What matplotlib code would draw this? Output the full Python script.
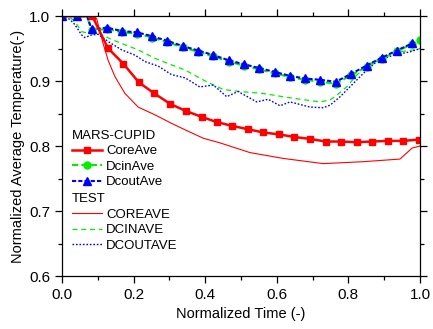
import matplotlib
matplotlib.use('Agg')
import matplotlib.pyplot as plt
from matplotlib.ticker import MultipleLocator

plt.rcParams['font.family'] = ['Liberation Sans', 'DejaVu Sans']

# MARS-CUPID (model) results
t_core = [0.0, 0.042, 0.085, 0.128, 0.171, 0.215, 0.258, 0.302, 0.346, 0.390, 0.432,
          0.476, 0.519, 0.562, 0.606, 0.649, 0.693, 0.737, 0.779, 0.823, 0.867, 0.910,
          0.953, 0.997]
core_ave = [1.0, 1.0, 1.0, 0.951, 0.927, 0.898, 0.881, 0.865, 0.854, 0.845, 0.837,
            0.831, 0.826, 0.821, 0.818, 0.814, 0.811, 0.807, 0.807, 0.806, 0.807, 0.808,
            0.808, 0.810]

t_dc = [0.0, 0.042, 0.07, 0.083, 0.127, 0.168, 0.210, 0.252, 0.294, 0.337, 0.381, 0.423,
        0.466, 0.508, 0.551, 0.595, 0.637, 0.679, 0.721, 0.765, 0.807, 0.851, 0.893,
        0.935, 0.978, 1.0]
dcin_ave = [1.0, 1.0, 1.0, 0.978, 0.980, 0.975, 0.973, 0.967, 0.960, 0.952, 0.945, 0.938,
            0.930, 0.924, 0.918, 0.912, 0.906, 0.902, 0.899, 0.896, 0.909, 0.922, 0.934,
            0.946, 0.957, 0.963]
dcout_ave = [1.0, 1.0, 1.0, 0.980, 0.982, 0.977, 0.975, 0.969, 0.962, 0.954, 0.947, 0.940,
             0.932, 0.926, 0.920, 0.914, 0.908, 0.904, 0.902, 0.899, 0.911, 0.924, 0.936,
             0.947, 0.958]

# TEST results
t_core_test = [0.0, 0.0875, 0.097, 0.115, 0.129, 0.148, 0.176, 0.213, 0.260, 0.306, 0.344,
               0.395, 0.441, 0.525, 0.618, 0.730, 0.842, 0.944, 0.978, 1.0]
core_test = [1.0, 1.0, 0.996, 0.958, 0.932, 0.907, 0.881, 0.860, 0.848, 0.835, 0.825,
             0.812, 0.805, 0.790, 0.781, 0.773, 0.776, 0.780, 0.797, 0.800]

t_dcin_test = [0.0, 0.022, 0.036, 0.055, 0.073, 0.101, 0.139, 0.176, 0.213, 0.260, 0.306,
               0.344, 0.404, 0.451, 0.497, 0.562, 0.628, 0.693, 0.721, 0.749, 0.767, 0.795,
               0.823, 0.860, 0.897, 0.944, 0.981, 1.0]
dcin_test = [1.0, 0.998, 0.992, 0.976, 0.974, 0.974, 0.964, 0.956, 0.948, 0.935, 0.925,
             0.917, 0.899, 0.887, 0.884, 0.881, 0.875, 0.870, 0.868, 0.871, 0.878, 0.891,
             0.909, 0.927, 0.937, 0.945, 0.948, 0.950]

t_dcout_test = [0.0, 0.022, 0.036, 0.055, 0.064, 0.083, 0.101, 0.129, 0.167, 0.204, 0.232,
                0.269, 0.306, 0.344, 0.385, 0.423, 0.460, 0.492, 0.544, 0.576, 0.609, 0.637,
                0.693, 0.730, 0.749, 0.777, 0.804, 0.842, 0.879, 0.925, 0.972, 1.0]
dcout_test = [1.0, 0.995, 0.987, 0.971, 0.967, 0.971, 0.972, 0.961, 0.948, 0.940, 0.930,
              0.923, 0.910, 0.905, 0.891, 0.894, 0.876, 0.884, 0.868, 0.872, 0.862, 0.868,
              0.860, 0.859, 0.863, 0.876, 0.891, 0.912, 0.930, 0.940, 0.945, 0.950]

fig = plt.figure(figsize=(4.33, 3.29), dpi=100)
ax = fig.add_axes([0.143, 0.161, 0.827, 0.790])

# test curves (thin, no markers)
l4, = ax.plot(t_core_test, core_test, color='#ff0000', lw=0.8, label='COREAVE')
l5, = ax.plot(t_dcin_test, dcin_test, color='#00ee00', lw=0.9, dashes=(4, 3), label='DCINAVE')
l6, = ax.plot(t_dcout_test, dcout_test, color='#0000ff', lw=1.0, dashes=(1.2, 1.3), label='DCOUTAVE')

# model curves
mk_dc = [i for i in range(len(t_dc)) if i != 2]
l2, = ax.plot(t_dc, dcin_ave, color='#00ee00', lw=1.5, dashes=(3, 1.5), marker='o', ms=5,
              markevery=mk_dc, label='DcinAve')
l3, = ax.plot(t_dc[:len(dcout_ave)], dcout_ave, color='#0000ff', lw=1.5, dashes=(2, 1),
              marker='^', ms=6, markevery=mk_dc[:-1], label='DcoutAve')
l1, = ax.plot(t_core, core_ave, color='#ff0000', lw=1.8, marker='s', ms=5,
              markevery=list(range(2, len(t_core))), label='CoreAve')

ax.set_xlim(0, 1.0)
ax.set_ylim(0.6, 1.0)
ax.xaxis.set_major_locator(MultipleLocator(0.2))
ax.xaxis.set_minor_locator(MultipleLocator(0.1))
ax.yaxis.set_major_locator(MultipleLocator(0.1))
ax.yaxis.set_minor_locator(MultipleLocator(0.05))
ax.xaxis.set_major_formatter(plt.FormatStrFormatter('%.1f'))
ax.yaxis.set_major_formatter(plt.FormatStrFormatter('%.1f'))
ax.tick_params(which='both', direction='out', top=True, right=True, labelsize=11, width=0.9)
ax.tick_params(which='major', length=5)
ax.tick_params(which='minor', length=3)
for s in ax.spines.values():
    s.set_linewidth(0.9)

ax.set_xlabel('Normalized Time (-)', fontsize=10.5, labelpad=4)
ax.set_ylabel('Normalized Average Temperature(-)', fontsize=10.5, labelpad=3)

leg1 = ax.legend(handles=[l1, l2, l3], title='MARS-CUPID', loc='upper left',
                 bbox_to_anchor=(0.028, 0.563), frameon=False, fontsize=9.5,
                 title_fontsize=9.5, alignment='left', borderpad=0, borderaxespad=0,
                 labelspacing=0.25, handlelength=2.3, handletextpad=0.3)
ax.add_artist(leg1)
ax.legend(handles=[l4, l5, l6], title='TEST', loc='upper left',
          bbox_to_anchor=(0.028, 0.318), frameon=False, fontsize=9.5,
          title_fontsize=9.5, alignment='left', borderpad=0, borderaxespad=0,
          labelspacing=0.25, handlelength=2.3, handletextpad=0.3)

fig.savefig('out.png', dpi=100)
